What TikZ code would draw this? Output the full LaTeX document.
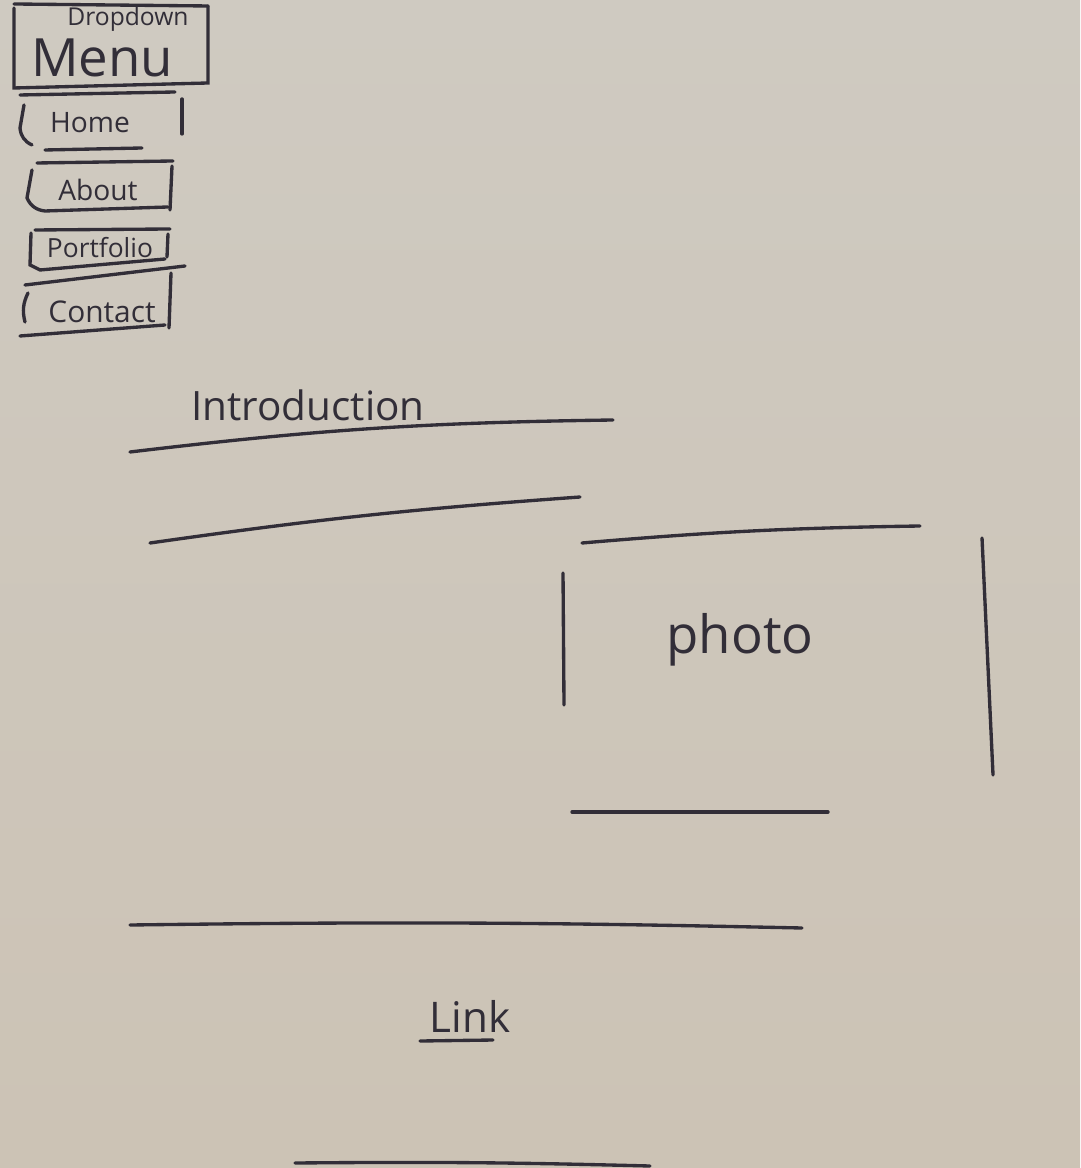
\documentclass[tikz,border=0pt]{standalone}
\usepackage{fontspec}
\setmainfont{Open Sans}
\usetikzlibrary{positioning}
\definecolor{paper}{RGB}{207,202,193}
\definecolor{paperlow}{RGB}{204,195,181}
\definecolor{ink}{RGB}{50,46,56}

\begin{document}
\begin{tikzpicture}[x=0.01cm, y=-0.01cm,
        pen/.style={draw=ink, line width=0.95pt, line cap=round},
        hand/.style={text=ink, inner sep=0pt, font=\fontsize{#1}{#1}\selectfont},
        hand/.default=8
    ]
    % sheet of paper
    \shade[top color=paper, bottom color=paperlow] (0,0) rectangle (1080,1168);
    \useasboundingbox (0,0) rectangle (1080,1168);

    % dropdown menu header
    \node[hand=7] (dropdown) at (128,19) {Dropdown};
    \node[hand=15] (menu) at (102,58) {Menu};
    \draw[pen] (14,8) -- (14,88) -- (208,83) -- (208,6);
    \draw[pen] (14,4) -- (208,6);

    % menu items
    \node[hand] (home) at (90,123) {Home};
    \node[hand] (about) at (98,190) {About};
    \node[hand=7.5] (portfolio) at (100,248) {Portfolio};
    \node[hand=8.5] (contact) at (102,312) {Contact};

    \draw[pen] (20,95) -- (175,92);
    \draw[pen] (24,105) -- (20,128) to[bend right=30] (32,145);
    \draw[pen] (182,99) -- (182,134);
    \draw[pen] (45,150) -- (142,148);

    \draw[pen] (37,163) -- (173,161);
    \draw[pen] (32,170) -- (27,198) to[bend right=30] (45,211) -- (168,207);
    \draw[pen] (172,166) -- (170,210);

    \draw[pen] (35,230) -- (170,229);
    \draw[pen] (31,233) -- (30,265) -- (40,270) -- (165,259);
    \draw[pen] (168,234) -- (167,257);

    \draw[pen] (25,285) -- (185,266);
    \draw[pen] (28,293) to[bend right=20] (25,322);
    \draw[pen] (171,273) -- (169,328);
    \draw[pen] (20,336) -- (165,325);

    % introduction block
    \node[hand=11.5] (intro) at (308,405) {Introduction};
    \draw[pen] (130,452) to[bend left=3] (613,420);
    \draw[pen] (150,543) to[bend left=2] (580,497);

    % photo placeholder
    \node[hand=15] (photo) at (740,640) {photo};
    \draw[pen] (582,543) to[bend left=2] (920,526);
    \draw[pen] (563,573) -- (564,705);
    \draw[pen] (982,538) -- (993,775);
    \draw[pen] (572,812) -- (828,812);

    % closing rule and link
    \draw[pen] (130,925) to[bend left=1] (802,928);
    \node[hand=12] (link) at (470,1016) {Link};
    \draw[pen] (420,1041) -- (493,1040);
    \draw[pen] (295,1163) to[bend left=1] (650,1166);
\end{tikzpicture}
\end{document}
